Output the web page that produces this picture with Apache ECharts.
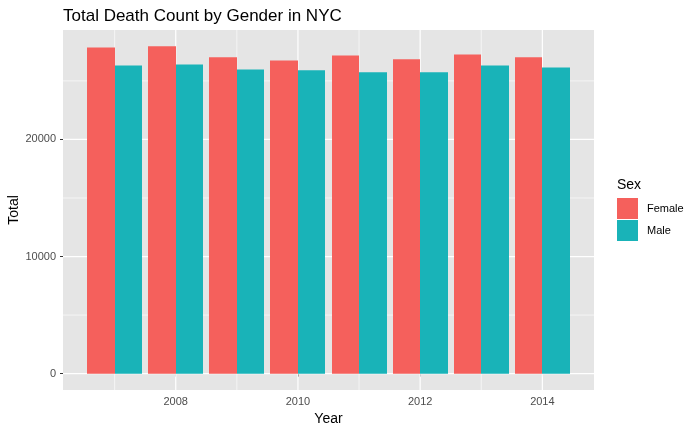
<!DOCTYPE html>
<html>
<head>
<meta charset="utf-8">
<script src="https://cdn.jsdelivr.net/npm/echarts@6/dist/echarts.min.js"></script>
<style>html,body{margin:0;padding:0;background:#fff;}#c{width:700px;height:432px;}</style>
</head>
<body>
<div id="c"></div>
<script>
const years = [2007, 2008, 2009, 2010, 2011, 2012, 2013, 2014];
const female = [27860, 27950, 27010, 26750, 27180, 26840, 27260, 27010];
const male = [26320, 26410, 25980, 25900, 25730, 25730, 26320, 26150];
const yMajor = [0, 10000, 20000];
const yMinor = [5000, 15000, 25000];
const xMajor = [2008, 2010, 2012, 2014];
const xMinor = [2007, 2009, 2011, 2013];

const FONT = '"Liberation Sans", Arial, sans-serif';
const dodge = 0.45;

// ggplot-like 5% expansion
const yMaxData = Math.max(...female, ...male);
const yPad = yMaxData * 0.05;
const xLo = Math.min(...years) - dodge, xHi = Math.max(...years) + dodge;
const xPad = (xHi - xLo) * 0.05;
const X0 = xLo - xPad, X1 = xHi + xPad, Y0 = -yPad, Y1 = yMaxData + yPad;

function barSeries(name, values, color, side) {
  return {
    type: 'custom',
    name: name,
    itemStyle: { color: color },
    z: 3,
    data: years.map((y, i) => [y, values[i]]),
    encode: { x: 0, y: 1 },
    renderItem: function (params, api) {
      const yr = api.value(0), v = api.value(1);
      const x0 = side < 0 ? yr - dodge : yr;
      const p1 = api.coord([x0, v]);
      const p2 = api.coord([x0 + dodge, 0]);
      const L = Math.round(p1[0]), R = Math.round(p2[0]);
      return {
        type: 'rect',
        shape: { x: L, y: p1[1], width: R - L, height: p2[1] - p1[1] },
        style: { fill: color }
      };
    }
  };
}

// grid lines through the axis scales: item = [value, isVertical(1/0), lineWidth]
const gridItems = [
  ...yMinor.map(v => [v, 0, 0.6]), ...xMinor.map(v => [v, 1, 0.6]),
  ...yMajor.map(v => [v, 0, 1.2]), ...xMajor.map(v => [v, 1, 1.2])
];
const gridSeries = {
  type: 'custom', name: 'grid', z: 1, silent: true,
  data: gridItems,
  encode: { x: [], y: [] },
  renderItem: function (params, api) {
    const v = api.value(0), vert = api.value(1), w = api.value(2);
    let a, b;
    if (vert) { a = api.coord([v, Y0]); b = api.coord([v, Y1]); }
    else { a = api.coord([X0, v]); b = api.coord([X1, v]); }
    return { type: 'line', shape: { x1: a[0], y1: a[1], x2: b[0], y2: b[1] },
      style: { stroke: '#ffffff', lineWidth: w } };
  }
};

const chart = echarts.init(document.getElementById('c'), null, { renderer: 'canvas' });
chart.setOption({
  animation: false,
  backgroundColor: '#ffffff',
  title: [
    { text: 'Total Death Count by Gender in NYC', left: 63, top: 8, padding: 0,
      textStyle: { fontFamily: FONT, fontSize: 17, fontWeight: 'normal', color: '#000' } },
    { text: 'Sex', left: 617, top: 178, padding: 0,
      textStyle: { fontFamily: FONT, fontSize: 14, fontWeight: 'normal', color: '#000' } }
  ],
  legend: {
    data: ['Female', 'Male'],
    orient: 'vertical',
    left: 617, top: 198, padding: 0,
    itemWidth: 21, itemHeight: 21, itemGap: 1,
    icon: 'rect',
    textStyle: { fontFamily: FONT, fontSize: 11, color: '#000', padding: [3, 0, 0, 4] }
  },
  grid: { left: 63, right: 106, top: 30, bottom: 42, show: true, backgroundColor: '#E5E5E5', borderWidth: 0,
    outerBoundsMode: 'none', containLabel: false },
  xAxis: {
    type: 'value', min: X0, max: X1,
    name: 'Year', nameLocation: 'middle', nameGap: 20,
    nameTextStyle: { fontFamily: FONT, fontSize: 14, color: '#000' },
    axisLine: { show: false },
    axisTick: { show: true, length: 3, lineStyle: { color: '#333', width: 1 }, customValues: xMajor },
    axisLabel: { fontFamily: FONT, fontSize: 11, color: '#4d4d4d', margin: 6, customValues: xMajor,
      formatter: (v) => String(v) },
    splitLine: { show: false }
  },
  yAxis: {
    type: 'value', min: Y0, max: Y1,
    name: 'Total', nameLocation: 'middle', nameGap: 42, nameRotate: 90, nameMoveOverlap: false,
    nameTextStyle: { fontFamily: FONT, fontSize: 14, color: '#000' },
    axisLine: { show: false },
    axisTick: { show: true, length: 3, lineStyle: { color: '#333', width: 1 }, customValues: yMajor },
    axisLabel: { fontFamily: FONT, fontSize: 11, color: '#4d4d4d', margin: 7, customValues: yMajor,
      formatter: (v) => String(v) },
    splitLine: { show: false }
  },
  series: [
    gridSeries,
    barSeries('Female', female, '#F5605C', -1),
    barSeries('Male', male, '#19B3B8', 1)
  ]
});
</script>
</body>
</html>
